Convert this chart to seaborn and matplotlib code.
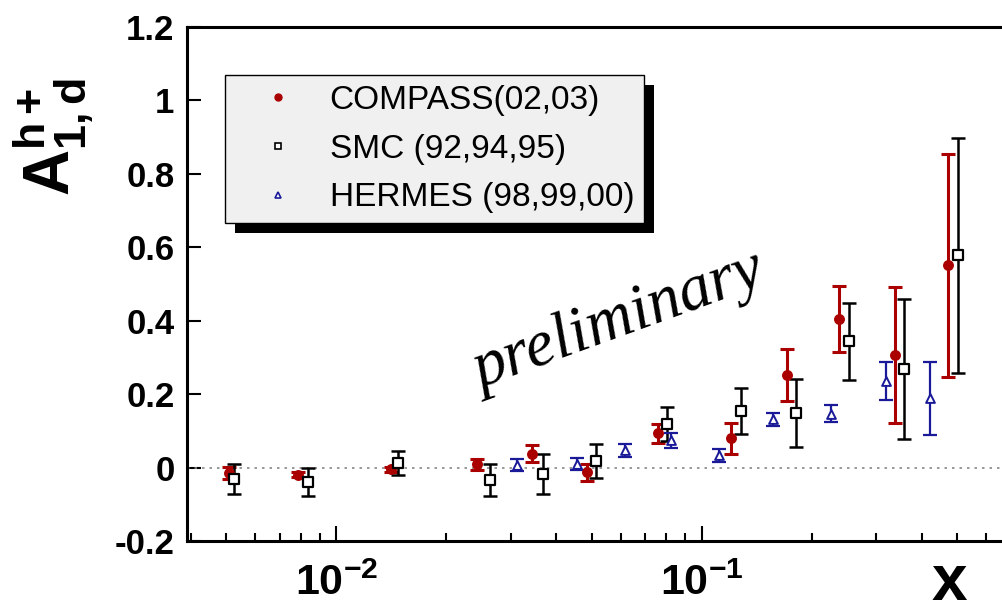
import numpy as np
import pandas as pd
import matplotlib
matplotlib.use("Agg")
import matplotlib.pyplot as plt
import seaborn as sns
from matplotlib.ticker import FixedLocator, LogLocator, FuncFormatter, NullFormatter
from matplotlib.patches import Rectangle
from matplotlib.transforms import IdentityTransform
from matplotlib.lines import Line2D

# ---------------- data ----------------
compass_x = [0.00508, 0.00784, 0.01411, 0.0243, 0.03435, 0.04849, 0.0760, 0.1200, 0.1712, 0.2374, 0.3383, 0.4716]
compass_y = [-0.015, -0.019, -0.005, 0.009, 0.038, -0.013, 0.093, 0.080, 0.253, 0.405, 0.306, 0.551]
compass_e = [0.016, 0.006, 0.006, 0.015, 0.023, 0.023, 0.026, 0.042, 0.071, 0.090, 0.185, 0.304]

smc_x = [0.00524, 0.00838, 0.01472, 0.02625, 0.03666, 0.05117, 0.0805, 0.1278, 0.1811, 0.2533, 0.358, 0.502]
smc_y = [-0.031, -0.039, 0.013, -0.034, -0.017, 0.017, 0.119, 0.154, 0.148, 0.344, 0.269, 0.578]
smc_e = [0.040, 0.038, 0.033, 0.044, 0.054, 0.046, 0.046, 0.063, 0.093, 0.105, 0.190, 0.320]

hermes_x = [0.03126, 0.0454, 0.0617, 0.0824, 0.1117, 0.157, 0.2258, 0.3191, 0.4217]
hermes_y = [0.007, 0.009, 0.047, 0.074, 0.033, 0.131, 0.147, 0.236, 0.189]
hermes_e = [0.015, 0.016, 0.017, 0.020, 0.018, 0.019, 0.024, 0.051, 0.099]

labels = ["COMPASS(02,03)", "SMC (92,94,95)", "HERMES (98,99,00)"]
y_ticks = [-0.2, 0, 0.2, 0.4, 0.6, 0.8, 1.0, 1.2]

RED = "#aa0000"
BLUE = "#1a1a99"
BLACK = "#000000"

sns.set_style("ticks")
plt.rcParams["font.family"] = ["Liberation Sans", "DejaVu Sans"]
plt.rcParams["mathtext.fontset"] = "custom"
plt.rcParams["mathtext.rm"] = "Liberation Sans"
plt.rcParams["mathtext.bf"] = "Liberation Sans:bold"
plt.rcParams["mathtext.it"] = "Liberation Sans:italic"
plt.rcParams["axes.unicode_minus"] = False
for k in ["text.color", "axes.labelcolor", "xtick.color", "ytick.color"]:
    plt.rcParams[k] = "black"

W, H = 1003, 613
fig = plt.figure(figsize=(W / 100, H / 100), dpi=100)
ax = fig.add_axes([187 / W, 72 / H, (W - 187) / W, 514 / H])

df_c = pd.DataFrame({"x": compass_x, "y": compass_y, "e": compass_e})
df_s = pd.DataFrame({"x": smc_x, "y": smc_y, "e": smc_e})
df_h = pd.DataFrame({"x": hermes_x, "y": hermes_y, "e": hermes_e})

# zero line
ax.axhline(0, color="#888888", lw=1.2, ls=(0, (1.5, 3)), zorder=1)

# error bars
ax.errorbar(df_c.x, df_c.y, yerr=df_c.e, fmt="none", ecolor=RED, elinewidth=2.2,
            capsize=5, capthick=2.2, zorder=3)
ax.errorbar(df_s.x, df_s.y, yerr=df_s.e, fmt="none", ecolor=BLACK, elinewidth=1.8,
            capsize=5, capthick=1.8, zorder=3)
ax.errorbar(df_h.x, df_h.y, yerr=df_h.e, fmt="none", ecolor=BLUE, elinewidth=1.6,
            capsize=5, capthick=1.6, zorder=3)

# markers
sns.scatterplot(data=df_c, x="x", y="y", ax=ax, marker="o", s=62, color=RED,
                edgecolor=RED, linewidth=0, zorder=4, legend=False)
sns.scatterplot(data=df_s, x="x", y="y", ax=ax, marker="s", s=58, facecolor="white",
                edgecolor=BLACK, linewidth=1.6, zorder=5, legend=False)
sns.scatterplot(data=df_h, x="x", y="y", ax=ax, marker="^", s=40, facecolor="white",
                edgecolor=BLUE, linewidth=1.4, zorder=5, legend=False)

ax.set_xscale("log")
ax.set_xlim(0.0039, 0.667)
ax.set_ylim(-0.2, 1.2)

for side in ["left", "bottom", "top"]:
    ax.spines[side].set_linewidth(2.2)
    ax.spines[side].set_color("black")
ax.spines["right"].set_visible(False)

ax.yaxis.set_major_locator(FixedLocator(y_ticks))
ax.yaxis.set_major_formatter(FuncFormatter(lambda v, p: "%g" % v))
ax.xaxis.set_major_locator(LogLocator(base=10, numticks=10))
ax.xaxis.set_minor_locator(LogLocator(base=10, subs=np.arange(2, 10), numticks=20))
ax.xaxis.set_major_formatter(FuncFormatter(lambda v, p: r"$\mathbf{10^{%d}}$" % int(round(np.log10(v)))))
ax.xaxis.set_minor_formatter(NullFormatter())

ax.tick_params(axis="y", which="major", direction="in", length=10, width=1.5,
               labelsize=25, pad=9, colors="black")
ax.tick_params(axis="x", which="major", direction="in", length=11, width=1.5,
               labelsize=31, pad=16, colors="black")
ax.tick_params(axis="x", which="minor", direction="in", length=6, width=1.5, colors="black")
for lab in ax.get_yticklabels():
    lab.set_fontweight("bold")

ax.set_xlabel("")
ax.set_ylabel("")

# axis titles
fig.text(949 / W, 1 - 600 / H, "x", fontsize=46, fontweight="bold", ha="center",
         va="baseline", color="black")
fig.text(54 / W, 1 - 137 / H, r"$\mathbf{A^{h+}_{1,d}}$", fontsize=46, rotation=90,
         ha="center", va="center", color="black")

# preliminary
fig.text(619 / W, 1 - 322 / H, "preliminary", fontsize=47, family=["Liberation Serif"],
         style="italic", rotation=20, rotation_mode="anchor", ha="center", va="center",
         color="black")

# legend
handles = [
    Line2D([], [], ls="none", marker="o", ms=5, color=RED, mec=RED),
    Line2D([], [], ls="none", marker="s", ms=5, mfc="white", mec=BLACK, mew=1.2),
    Line2D([], [], ls="none", marker="^", ms=4.5, mfc="white", mec=BLUE, mew=1.2),
]
x0, y0, x1, y1 = 225, 75, 644, 222
leg = ax.legend(handles, labels, loc="upper left", mode="expand",
                bbox_to_anchor=(x0 / W, 1 - y1 / H, (x1 - x0) / W, (y1 - y0) / H),
                bbox_transform=fig.transFigure, fontsize=24, frameon=True,
                fancybox=False, borderpad=0.3, handlelength=2.58, handletextpad=0.26,
                labelspacing=0.53, borderaxespad=0)
for t in leg.get_texts():
    t.set_color("black")
fr = leg.get_frame()
fr.set_facecolor("#f0f0f0")
fr.set_edgecolor("black")
fr.set_linewidth(1.0)
fr.set_alpha(1)
leg.set_zorder(10)

fig.canvas.draw()
bb = leg.get_frame().get_window_extent()
shadow = Rectangle((bb.x0 + 10, bb.y0 - 10), bb.width, bb.height, transform=IdentityTransform(),
                   facecolor="black", edgecolor="none", zorder=9, clip_on=False)
ax.add_artist(shadow)

fig.savefig("out.png", dpi=100)
